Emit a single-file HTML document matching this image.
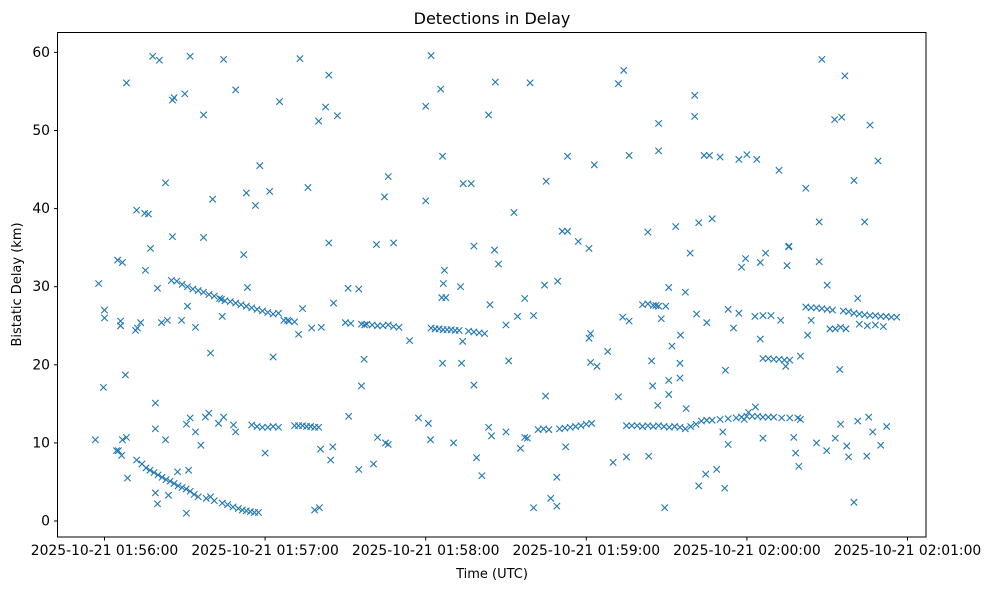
<!DOCTYPE html>
<html><head><meta charset="utf-8">
<style>
html,body{margin:0;padding:0;background:#fff;}
svg{display:block;font-family:"DejaVu Sans","Liberation Sans",sans-serif;}
</style></head>
<body>
<svg id="chart" width="987" height="590" viewBox="0 0 987 590">
<rect x="0" y="0" width="987" height="590" fill="#fff"/>
<text x="492" y="24" font-size="16" text-anchor="middle" fill="#000">Detections in Delay</text>
<g id="marks"></g>
<rect x="57.5" y="32.5" width="868.5" height="504.5" fill="none" stroke="#000" stroke-width="1"/>
<g id="xaxis"></g>
<g id="yaxis"></g>
<text x="492" y="578" font-size="13" text-anchor="middle">Time (UTC)</text>
<text transform="translate(21,284.5) rotate(-90)" font-size="13" text-anchor="middle">Bistatic Delay (km)</text>
</svg>
<script>
// seconds after 2025-10-21 01:56:00
const xTickValues = [0, 60, 120, 180, 240, 300];
const xTickLabels = ["2025-10-21 01:56:00","2025-10-21 01:57:00","2025-10-21 01:58:00","2025-10-21 01:59:00","2025-10-21 02:00:00","2025-10-21 02:01:00"];
const yTickValues = [0, 10, 20, 30, 40, 50, 60];
const times = [
-3.4,-2.2,-0.4,0,0,4.9,6.7,6,6,5.2,6.4,6.7,8.2,8.2,7.8,8.6,12,12.3,13.5,15,12,4.5,
18,20.5,25.4,26,30,32,37,44.5,49,65.4,73,80,82.6,83.8,87,122,120,125.6,146,159,192,194,143.5,183,220.5,220.5,268,272.8,275.4,276.6,286,
22.8,25.4,17.2,16.4,37,40.4,53,56.4,58,61.7,52,76,83.8,104.6,106,108,101.6,120,126.3,134,137,138,153,165,173,171,173,177,181,196,207,207,224,226,230,237,240,243.7,252,262,267,280,284,289,222,227,203,213.4,267,255.6,
15.3,19.8,43.7,53.4,74,85.6,91,95,127,126.6,133,145.7,147.2,164.4,169.3,210.8,217,218.8,238,239.5,245,247,255,255.7,270,281.4,
11.6,21.3,23.5,28.8,31,34,39.6,44,63,68.4,72.5,77.4,81,97,96,97.2,114,126.3,133.8,133.4,138,144,151,150,154.3,157,160.3,181.6,184,181.6,181,188,193.6,196,204.4,206,208,209.7,212,215.2,221.2,225,232,233,235,237,243,245,246,249,252.6,254.5,260,262.7,264,274.7,204.8,210.8,215,
19,22.8,30.6,31.4,32,34,36,37.7,39,42.6,44.5,48.2,49,60,78.5,80.3,80.7,84.5,85.3,91.2,95,100.5,102,105,106,117.3,121,121.8,130.4,139,141,143.5,144.6,150,155.4,157,158,160.3,164.8,166.7,169,169,172.3,190,192,203.3,195,209.3,206.7,210.8,215,217.3,222,224.6,228.7,231,231.7,233,239,240.6,243.2,246,257.5,258.2,259.4,266,269.8,273,277.3,278,280,281.4,284.8,285.5,287,290,292.2,275,260,
19,19,19.8,23.9,27.3,30.6,39.6,
14,15.5,17,18.5,20,21.5,23,24.5,26,27.5,29,30.5,32,33.5,35,38,41,44,46,48,50,51.5,53,54.5,56,57.5,
25,27,29,31,33,35,37,39,41,43,45,47,49,51,53,55,57,59,61,63,65,67,69,71,
55,57,59,61,63,65,71,72.5,74,75.5,77,78.5,80,
90,92,96,98,100,102,104,106,108,110,
122,123.5,125,126.5,128,129.5,131,132.5,136,138,140,142,126,127.5,
162,164,166,170,172,174,176,178,180,182,
195,197,199,201,203,205,207,209,211,213,215,217,219,221,223,225,227,230,233,
201,203,205,207,
236,238,240,242,244,246,248,250,253,256,259,
246,248,250,252,254,256,
262,264,266,268,270,272,276,278,280,282,284,286,288,290,292,294,296,275,277,282,285,288,291,271,273
];
const delays = [
10.4,30.4,17.1,27,26,33.4,33.1,25.6,25,9,8.4,10.4,10.7,56.1,18.7,5.5,39.8,24.7,25.4,39.4,7.8,9,
59.5,59,53.9,54.2,54.7,59.5,52,59.1,55.2,53.7,59.2,51.2,53,57.1,51.9,59.6,53.1,55.3,56.2,56.1,56,57.7,52,45.6,54.5,51.8,59.1,51.4,51.7,57,50.7,
43.3,36.4,34.9,39.3,36.3,41.2,42,40.4,45.5,42.2,34.1,42.7,35.6,41.5,44.1,35.6,35.4,41,46.7,43.2,43.2,35.2,39.5,43.5,46.7,37.1,37.1,35.8,34.9,46.8,47.4,50.9,46.8,46.8,46.6,46.3,46.9,46.3,44.9,42.6,38.3,43.6,38.3,46.1,38.2,38.7,37,37.7,33.2,35.1,
32.1,29.8,28.4,29.9,27.2,27.9,29.8,29.7,32.1,30.4,30,34.7,32.9,30.2,30.7,29.9,29.3,34.3,32.5,33.6,33.1,34.3,32.7,35.2,30.2,28.5,
24.4,25.4,25.7,25.7,27.5,24.8,21.5,26.2,21,25.7,23.9,24.7,24.8,20.7,17.3,25.1,23.1,20.2,23,20.2,17.4,27.7,20.5,25.1,26.2,28.5,26.3,20.3,19.8,24,23.4,21.7,26.1,25.6,20.5,27.6,25.9,27.5,22.4,23.8,26.5,25.4,19.3,27.1,24.7,26.6,26.2,23.3,26.3,26.3,25.7,19.8,21.1,23.8,25.7,19.4,17.3,18,20.2,
15.1,10.4,12.4,6.5,13.2,11.4,9.7,13.3,13.8,12.5,13.3,12.3,11.4,8.7,1.4,1.7,9.2,7.8,9.5,13.4,6.6,7.3,10.7,10,9.8,13.2,12.5,10.4,10,8.1,5.8,12,10.9,11.4,9.3,10.7,10.6,1.7,16,2.9,1.9,5.6,9.5,7.5,15.9,8.3,8.2,1.7,14.8,16.2,18.3,14.4,4.5,6,6.6,11.4,4.2,9.8,13,13.9,14.6,10.6,10.7,8.7,7,10,9,10.6,9.6,8.2,2.4,12.8,8.3,13.3,11.4,9.7,12.1,12.4,13,
11.8,3.6,2.2,3.3,6.3,1,3.1,
7.3,6.8,6.5,6.2,5.9,5.6,5.3,5.1,4.8,4.5,4.3,4.1,3.8,3.4,3.1,2.9,2.6,2.3,2.1,1.8,1.6,1.4,1.3,1.2,1.1,1.1,
30.8,30.7,30.3,30,29.7,29.5,29.3,29,28.8,28.5,28.2,28.1,27.9,27.7,27.5,27.3,27.1,26.9,26.7,26.5,26.6,25.7,25.6,25.5,
12.3,12.1,12,12,12.1,12,12.2,12.2,12.2,12.1,12.1,12,12,
25.4,25.3,25.2,25.2,25.1,25,25,25.1,24.9,24.8,
24.7,24.6,24.6,24.5,24.5,24.5,24.4,24.4,24.3,24.2,24.1,24,28.6,28.6,
11.7,11.8,11.7,11.8,11.9,12,12.1,12.2,12.4,12.5,
12.2,12.2,12.2,12.1,12.2,12.1,12.2,12.1,12,12.1,12,11.8,12.1,12.4,12.8,12.9,12.9,13,13.1,
27.7,27.8,27.6,27.5,
13.2,13.3,13.4,13.4,13.4,13.3,13.3,13.3,13.2,13.2,13.2,
20.8,20.8,20.7,20.7,20.6,20.6,
27.4,27.3,27.3,27.2,27.1,27,26.9,26.8,26.6,26.5,26.4,26.3,26.3,26.2,26.2,26.1,26.1,24.8,24.6,25.2,25,25.1,24.9,24.6,24.6
];
const NS = "http://www.w3.org/2000/svg";
const X0 = 104.5, XS = 160.6/60;
const Y0 = 521, YS = 7.81;
function xScale(t){ return X0 + t*XS; }
function yScale(d){ return Y0 - d*YS; }
const marks = document.getElementById('marks');
const n = Math.min(times.length, delays.length);
for (let i=0;i<n;i++){
  const cx = xScale(times[i]), cy = yScale(delays[i]), r = 3.2;
  const p = document.createElementNS(NS,'path');
  p.setAttribute('d', `M${cx-r},${cy-r}L${cx+r},${cy+r}M${cx-r},${cy+r}L${cx+r},${cy-r}`);
  p.setAttribute('stroke','#1f77b4');
  p.setAttribute('stroke-width','1.1');
  p.setAttribute('fill','none');
  
  
  marks.appendChild(p);
}
const xa = document.getElementById('xaxis');
xTickValues.forEach((v,i)=>{
  const x = xScale(v);
  const l = document.createElementNS(NS,'line');
  l.setAttribute('x1',x);l.setAttribute('x2',x);l.setAttribute('y1',537);l.setAttribute('y2',540.5);
  l.setAttribute('stroke','#000');
  
  
  xa.appendChild(l);
  const t = document.createElementNS(NS,'text');
  t.setAttribute('x',x);t.setAttribute('y',555);t.setAttribute('font-size','13.9');t.setAttribute('text-anchor','middle');
  t.textContent = xTickLabels[i];
  
  
  xa.appendChild(t);
});
const ya = document.getElementById('yaxis');
yTickValues.forEach(v=>{
  const y = yScale(v);
  const l = document.createElementNS(NS,'line');
  l.setAttribute('x1',54);l.setAttribute('x2',57.5);l.setAttribute('y1',y);l.setAttribute('y2',y);
  l.setAttribute('stroke','#000');
  
  
  ya.appendChild(l);
  const t = document.createElementNS(NS,'text');
  t.setAttribute('x',50);t.setAttribute('y',y+4.5);t.setAttribute('font-size','13.9');t.setAttribute('text-anchor','end');
  t.textContent = String(v);
  
  
  ya.appendChild(t);
});
</script>
</body></html>
